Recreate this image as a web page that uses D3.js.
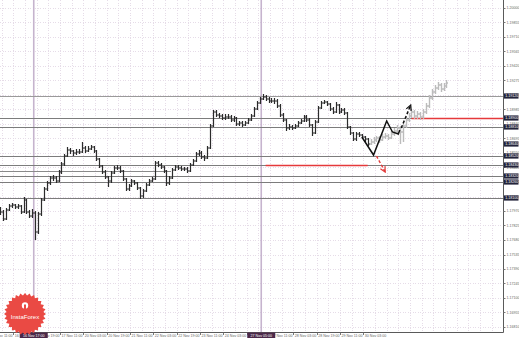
<!DOCTYPE html>
<html>
<head>
<meta charset="utf-8">
<script src="https://cdn.jsdelivr.net/npm/d3@7"></script>
<style>
  body { margin: 0; background: #fff; }
  svg { display: block; font-family: "Liberation Sans", Arial, sans-serif; }
</style>
</head>
<body>
<svg id="root"></svg>
<script>
// price history, 2-hour bars, first bar at trading hour 7 (15 Nov 18:00)
const barStartHour = 7;
const barStepHours = 2;
const firstOpen = 1.1798;

const barClose = [
  1.1796,1.1789,1.1798,1.1802,1.1803,1.1801,1.1802,1.1796,1.1808,1.1796,
  1.1792,1.1795,1.1776,1.1794,1.1808,1.1819,1.1825,1.1830,1.1830,1.1827,
  1.1836,1.1844,1.1852,1.1858,1.1857,1.1855,1.1856,1.1856,1.1860,1.1857,
  1.1859,1.1861,1.1857,1.1849,1.1842,1.1836,1.1831,1.1827,1.1835,1.1840,
  1.1840,1.1837,1.1829,1.1819,1.1822,1.1827,1.1825,1.1820,1.1812,1.1817,
  1.1823,1.1827,1.1829,1.1845,1.1843,1.1841,1.1837,1.1825,1.1830,1.1838,
  1.1841,1.1840,1.1839,1.1839,1.1837,1.1843,1.1847,1.1854,1.1855,1.1851,
  1.1850,1.1860,1.1882,1.1896,1.1893,1.1892,1.1890,1.1891,1.1891,1.1888,
  1.1890,1.1884,1.1885,1.1883,1.1885,1.1888,1.1892,1.1899,1.1905,1.1909,
  1.1911,1.1909,1.1907,1.1907,1.1907,1.1902,1.1893,1.1888,1.1880,1.1881,
  1.1880,1.1882,1.1885,1.1887,1.1891,1.1888,1.1883,1.1875,1.1886,1.1900,
  1.1905,1.1906,1.1904,1.1899,1.1896,1.1903,1.1896,1.1898,1.1895,1.1881,
  1.1875,1.1869,1.1874,1.1873,1.1871,1.1869,1.1864
];
const barHigh = [
  1.1801,1.1798,1.1800,1.1804,1.1805,1.1804,1.1804,1.1803,1.1811,1.1809,
  1.1798,1.1799,1.1797,1.1796,1.1810,1.1821,1.1827,1.1832,1.1833,1.1832,
  1.1838,1.1846,1.1854,1.1861,1.1860,1.1858,1.1859,1.1859,1.1866,1.1862,
  1.1862,1.1863,1.1862,1.1858,1.1850,1.1843,1.1838,1.1832,1.1837,1.1842,
  1.1843,1.1842,1.1838,1.1830,1.1824,1.1829,1.1828,1.1826,1.1821,1.1819,
  1.1825,1.1829,1.1831,1.1847,1.1847,1.1845,1.1842,1.1838,1.1832,1.1840,
  1.1843,1.1843,1.1842,1.1841,1.1841,1.1845,1.1849,1.1856,1.1858,1.1857,
  1.1853,1.1862,1.1884,1.1898,1.1898,1.1895,1.1894,1.1894,1.1894,1.1893,
  1.1892,1.1891,1.1887,1.1887,1.1887,1.1890,1.1894,1.1901,1.1907,1.1911,
  1.1914,1.1913,1.1911,1.1910,1.1910,1.1909,1.1904,1.1895,1.1889,1.1884,
  1.1883,1.1884,1.1887,1.1889,1.1893,1.1893,1.1890,1.1884,1.1888,1.1902,
  1.1907,1.1908,1.1907,1.1905,1.1901,1.1906,1.1904,1.1900,1.1900,1.1896,
  1.1882,1.1876,1.1876,1.1876,1.1874,1.1872,1.1870
];
const barLow = [
  1.1793,1.1787,1.1788,1.1797,1.1800,1.1799,1.1799,1.1794,1.1795,1.1794,
  1.1790,1.1790,1.1768,1.1774,1.1792,1.1807,1.1817,1.1823,1.1827,1.1825,
  1.1826,1.1834,1.1842,1.1851,1.1854,1.1852,1.1853,1.1854,1.1855,1.1855,
  1.1856,1.1858,1.1855,1.1847,1.1840,1.1834,1.1829,1.1821,1.1825,1.1834,
  1.1838,1.1835,1.1827,1.1817,1.1817,1.1821,1.1823,1.1818,1.1809,1.1810,
  1.1816,1.1822,1.1826,1.1828,1.1841,1.1839,1.1835,1.1822,1.1823,1.1829,
  1.1837,1.1838,1.1837,1.1837,1.1835,1.1836,1.1842,1.1846,1.1852,1.1849,
  1.1847,1.1849,1.1859,1.1881,1.1891,1.1890,1.1888,1.1888,1.1889,1.1886,
  1.1886,1.1882,1.1882,1.1881,1.1882,1.1884,1.1887,1.1891,1.1898,1.1904,
  1.1908,1.1907,1.1905,1.1905,1.1904,1.1900,1.1891,1.1886,1.1877,1.1878,
  1.1878,1.1879,1.1881,1.1884,1.1886,1.1886,1.1881,1.1872,1.1874,1.1885,
  1.1899,1.1904,1.1902,1.1897,1.1894,1.1895,1.1894,1.1895,1.1893,1.1879,
  1.1873,1.1867,1.1867,1.1871,1.1869,1.1866,1.1862
];

// later price pasted in light grey after the forecast
const afterClose = [1.1866,1.1868,1.1870,1.1868,1.1871,1.1872,1.1870,1.1874,1.1877,1.1880,1.1876,1.1882,1.1888,1.1892,1.1896,1.1892,1.1894,1.1891,1.1896,1.1902,1.1910,1.1916,1.1920,1.1923,1.1919,1.1922,1.1925];
const afterHigh  = [1.1869,1.1871,1.1872,1.1872,1.1874,1.1875,1.1874,1.1877,1.1880,1.1883,1.1882,1.1885,1.1891,1.1895,1.1899,1.1898,1.1897,1.1896,1.1899,1.1905,1.1913,1.1919,1.1923,1.1926,1.1925,1.1925,1.1928];
const afterLow   = [1.1863,1.1864,1.1866,1.1865,1.1867,1.1869,1.1868,1.1869,1.1872,1.1875,1.1864,1.1866,1.1880,1.1886,1.1890,1.1889,1.1889,1.1888,1.1889,1.1894,1.1900,1.1908,1.1914,1.1918,1.1916,1.1917,1.1920];

// forecast path (trading hour, price)
const forecastHours  = [255, 263, 272, 276, 280, 281];
const forecastPrices = [1.1871, 1.1853, 1.1887, 1.1876, 1.1874, 1.1878];
const upHours = [282, 288.5];
const upPrices = [1.1880, 1.1903];
const downHours = [265, 271];
const downPrices = [1.1852, 1.1836];

// horizontal levels
const levelPrices = [1.1912, 1.1890, 1.1881, 1.1852, 1.1843, 1.1832, 1.1826, 1.1810];
const shortLevelPrice = 1.1837;
const shortLevelHours = [0, 124];
const redPrices = [1.1890, 1.1843];
const redFrom = [289, 189];
const redTo = [352, 259];

// vertical lines
const vlineHours = [30, 186];
const vlineLabels = ['16 Nov 17:00', '27 Nov 05:00'];

// axis ticks
const yTicks = [1.20000,1.19855,1.19710,1.19565,1.19420,1.19275,1.19130,1.18985,1.18840,1.18695,1.18550,1.18405,
  1.18260,1.18115,1.17970,1.17825,1.17680,1.17535,1.17390,1.17245,1.17100,1.16955,1.16810];
const xTickLabels = ['15 Nov 11:00','16 Nov 03:00','16 Nov 19:00','17 Nov 11:00','20 Nov 03:00','20 Nov 19:00',
  '21 Nov 11:00','22 Nov 03:00','22 Nov 19:00','23 Nov 11:00','24 Nov 03:00','24 Nov 19:00','27 Nov 11:00',
  '28 Nov 03:00','28 Nov 19:00','29 Nov 11:00','30 Nov 03:00'];
const xTickStep = 16;

const width = 519, height = 339;
const plotRight = 503.5, plotBottom = 332.5;

const x = d3.scaleLinear().domain([0, 16]).range([-10, 13.333]);
const y = d3.scaleLinear().domain([1.16810, 1.20000]).range([327, 8]);

const svg = d3.select('#root').attr('width', width).attr('height', height);

const defs = svg.append('defs');
defs.append('clipPath').attr('id', 'plot')
  .append('rect').attr('x', 0).attr('y', 0).attr('width', plotRight).attr('height', plotBottom);
defs.append('clipPath').attr('id', 'axisX')
  .append('rect').attr('x', 0).attr('y', plotBottom).attr('width', plotRight).attr('height', 7);
function marker(id, color) {
  defs.append('marker').attr('id', id)
    .attr('viewBox', '0 0 8 8').attr('refX', 7).attr('refY', 4)
    .attr('markerWidth', 7).attr('markerHeight', 7).attr('markerUnits', 'userSpaceOnUse')
    .attr('orient', 'auto')
    .append('path').attr('d', 'M1,1L7,4L1,7').attr('fill', 'none')
    .attr('stroke', color).attr('stroke-width', 1.4);
}
marker('arrBlack', '#111');
marker('arrRed', '#e23a3a');

const chart = svg.append('g').attr('clip-path', 'url(#plot)');
const crisp = v => Math.round(v) + 0.5;

// dotted grid
const grid = chart.append('g').attr('stroke', '#e6dce8').attr('stroke-dasharray', '1,1.5')
  .attr('shape-rendering', 'crispEdges');
grid.selectAll('.gy').data(yTicks).join('line')
  .attr('x1', 0).attr('x2', plotRight)
  .attr('y1', d => crisp(y(d))).attr('y2', d => crisp(y(d)));
grid.selectAll('.gx').data(d3.range(8, 352, 8)).join('line')
  .attr('y1', 0).attr('y2', plotBottom)
  .attr('x1', d => crisp(x(d))).attr('x2', d => crisp(x(d)));

// vertical markers
chart.selectAll('.vl').data(vlineHours).join('line')
  .attr('x1', d => x(d)).attr('x2', d => x(d))
  .attr('y1', 0).attr('y2', plotBottom)
  .attr('stroke', '#c6b4ce').attr('stroke-width', 1.6);

// levels
chart.selectAll('.lv').data(levelPrices).join('line')
  .attr('x1', 0).attr('x2', plotRight)
  .attr('y1', d => crisp(y(d))).attr('y2', d => crisp(y(d)))
  .attr('stroke', (d, i) => i === 0 ? '#9a9a9a' : '#7c7c7c')
  .attr('shape-rendering', 'crispEdges');
chart.append('line')
  .attr('x1', x(shortLevelHours[0])).attr('x2', x(shortLevelHours[1]))
  .attr('y1', crisp(y(shortLevelPrice))).attr('y2', crisp(y(shortLevelPrice)))
  .attr('stroke', '#8a8a8a').attr('shape-rendering', 'crispEdges');
chart.selectAll('.red').data(redPrices).join('line')
  .attr('x1', (d, i) => x(redFrom[i])).attr('x2', (d, i) => x(redTo[i]))
  .attr('y1', d => crisp(y(d))).attr('y2', d => crisp(y(d)))
  .attr('stroke', '#e5393b').attr('stroke-width', 1.4);

// bars
const hist = barClose.map((c, i) => ({
  h: barStartHour + barStepHours * i,
  o: i ? barClose[i - 1] : firstOpen, hi: barHigh[i], lo: barLow[i], c
}));
const after = afterClose.map((c, i) => ({
  h: barStartHour + barStepHours * (barClose.length + i),
  o: i ? afterClose[i - 1] : barClose[barClose.length - 1], hi: afterHigh[i], lo: afterLow[i], c
}));
function barPath(d) {
  const cx = crisp(x(d.h));
  return `M${cx},${y(d.hi)}V${y(d.lo)}M${cx - 1.5},${y(d.o)}H${cx}M${cx},${y(d.c)}H${cx + 1.5}`;
}
chart.append('path').attr('d', after.map(barPath).join(''))
  .attr('fill', 'none').attr('stroke', '#bcbcbc').attr('stroke-width', 1.4);
chart.append('path').attr('d', hist.map(barPath).join(''))
  .attr('fill', 'none').attr('stroke', '#2b2b2b').attr('stroke-width', 1.2);

// forecast
const line = d3.line().x(d => x(d[0])).y(d => y(d[1]));
chart.append('path').attr('d', line(forecastHours.map((h, i) => [h, forecastPrices[i]])))
  .attr('fill', 'none').attr('stroke', '#111').attr('stroke-width', 1.5);
chart.append('path').attr('d', line(upHours.map((h, i) => [h, upPrices[i]])))
  .attr('fill', 'none').attr('stroke', '#111').attr('stroke-width', 1.5)
  .attr('stroke-dasharray', '3,2').attr('marker-end', 'url(#arrBlack)');
chart.append('path').attr('d', line(downHours.map((h, i) => [h, downPrices[i]])))
  .attr('fill', 'none').attr('stroke', '#e23a3a').attr('stroke-width', 1.4)
  .attr('stroke-dasharray', '3,2').attr('marker-end', 'url(#arrRed)');

// axes
svg.append('line').attr('x1', plotRight).attr('x2', plotRight).attr('y1', 0).attr('y2', plotBottom)
  .attr('stroke', '#5a5a5a');
svg.append('line').attr('x1', 0).attr('x2', plotRight).attr('y1', plotBottom).attr('y2', plotBottom)
  .attr('stroke', '#5a5a5a');

const yAx = svg.append('g');
yAx.selectAll('line').data(yTicks).join('line')
  .attr('x1', plotRight).attr('x2', plotRight + 2)
  .attr('y1', d => crisp(y(d))).attr('y2', d => crisp(y(d))).attr('stroke', '#777');
yAx.selectAll('text').data(yTicks).join('text')
  .attr('x', 506.5).attr('y', d => y(d) + 1.3)
  .attr('font-size', 3.6).attr('fill', '#666')
  .text(d => d.toFixed(5));

const xAx = svg.append('g').attr('clip-path', 'url(#axisX)');
xAx.selectAll('line').data(xTickLabels).join('line')
  .attr('x1', (d, i) => crisp(x(i * xTickStep))).attr('x2', (d, i) => crisp(x(i * xTickStep)))
  .attr('y1', plotBottom).attr('y2', plotBottom + 2.5).attr('stroke', '#777');
xAx.selectAll('text').data(xTickLabels).join('text')
  .attr('x', (d, i) => x(i * xTickStep) + 1.5).attr('y', 337.4)
  .attr('font-size', 3.6).attr('fill', '#666')
  .text(d => d);

// price boxes on the right
const boxPrices = levelPrices.concat([barClose[barClose.length - 1]]);
const boxes = svg.append('g').selectAll('g').data(boxPrices).join('g')
  .attr('transform', d => `translate(504,${y(d)})`);
boxes.append('rect').attr('x', 0).attr('y', -2.6).attr('width', 14.5).attr('height', 5.2)
  .attr('fill', '#23233a');
boxes.append('text').attr('x', 1.2).attr('y', 1.3)
  .attr('font-size', 3.6).attr('fill', '#fff').text(d => d.toFixed(5));

// time boxes for the vertical lines
const tb = svg.append('g').selectAll('g').data(vlineHours).join('g')
  .attr('transform', d => `translate(${x(d)},${plotBottom})`);
tb.append('rect').attr('x', -14).attr('y', 0).attr('width', 28).attr('height', 5.5)
  .attr('fill', '#4b2849');
tb.append('text').attr('x', 0).attr('y', 4.3).attr('text-anchor', 'middle')
  .attr('font-size', 3.6).attr('fill', '#fff').text((d, i) => vlineLabels[i]);

// InstaForex badge
const badge = svg.append('g').attr('transform', 'translate(25,314)');
const teeth = d3.range(56).map(k => {
  const a = k * Math.PI / 28, r = k % 2 ? 18.5 : 21;
  return [Math.sin(a) * r, -Math.cos(a) * r];
});
badge.append('path').attr('d', d3.line().curve(d3.curveLinearClosed)(teeth)).attr('fill', '#ea4a44');
badge.append('circle').attr('cy', -8.5).attr('r', 3.2).attr('fill', '#fff');
badge.append('path').attr('d', 'M-1,-9.5h2v6h-2z').attr('fill', '#ea4a44');
badge.append('text').attr('y', 5).attr('text-anchor', 'middle')
  .attr('font-size', 6).attr('fill', '#fff').text('InstaForex');
</script>
</body>
</html>
